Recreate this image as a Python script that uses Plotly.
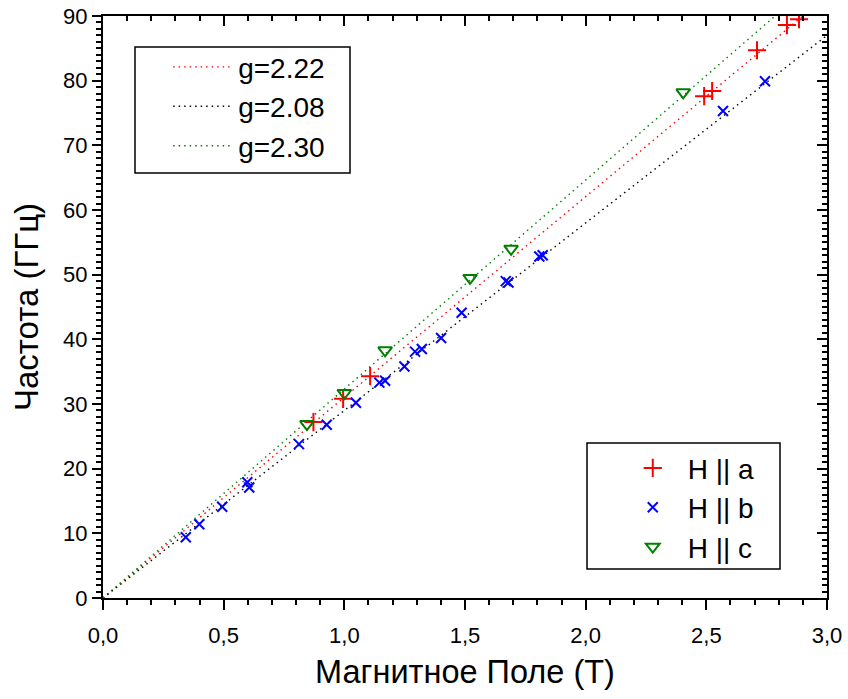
import plotly.graph_objects as go

# ---- data ----
field_a = [0.872, 0.995, 1.107, 2.491, 2.524, 2.710, 2.834, 2.884]
freq_a = [27.2, 30.8, 34.3, 77.6, 78.4, 84.7, 88.6, 89.5]

field_b = [0.343, 0.399, 0.494, 0.598, 0.606, 0.812, 0.927, 1.048, 1.145, 1.169,
           1.249, 1.293, 1.321, 1.401, 1.486, 1.669, 1.680, 1.808, 1.822, 2.569, 2.743]
freq_b = [9.4, 11.4, 14.1, 17.9, 17.1, 23.8, 26.8, 30.2, 33.3, 33.6,
          35.8, 38.1, 38.5, 40.2, 44.1, 49.0, 48.8, 52.8, 53.0, 75.3, 79.9]

field_c = [0.845, 1.000, 1.169, 1.521, 1.691, 2.404]
freq_c = [26.9, 31.7, 38.3, 49.5, 54.0, 78.2]

fit_labels = ["g=2.22", "g=2.08", "g=2.30"]
fit_x = [[0.0, 2.90], [0.0, 3.00], [0.0, 2.785]]
fit_y = [[0.0, 90.0], [0.0, 87.0], [0.0, 90.0]]
fit_colors = ["#ff0000", "#000000", "#008000"]

x_title = "Магнитное Поле (T)"
y_title = "Частота (ГГц)"

FONT = "Liberation Sans, Arial, sans-serif"

fig = go.Figure()

for lbl, xs, ys, col in zip(fit_labels, fit_x, fit_y, fit_colors):
    fig.add_trace(go.Scatter(x=xs, y=ys, mode="lines", name=lbl,
                             line=dict(color=col, width=1.4, dash="1.5px,4px"),
                             legend="legend"))

fig.add_trace(go.Scatter(x=field_a, y=freq_a, mode="markers", name="H || a",
                         marker=dict(symbol="cross-thin-open", size=13, color="#ff0000",
                                     line=dict(width=2, color="#ff0000")),
                         legend="legend2"))
fig.add_trace(go.Scatter(x=field_b, y=freq_b, mode="markers", name="H || b",
                         marker=dict(symbol="x-thin-open", size=10, color="#0000ff",
                                     line=dict(width=2, color="#0000ff")),
                         legend="legend2"))
fig.add_trace(go.Scatter(x=field_c, y=freq_c, mode="markers", name="H || c",
                         marker=dict(symbol="triangle-down-open", size=12, color="#008000",
                                     line=dict(width=2, color="#008000")),
                         legend="legend2"))

# dummy trace to make mirrored (inside-tick) axes appear
fig.add_trace(go.Scatter(x=[None], y=[None], xaxis="x2", yaxis="y2",
                         showlegend=False, hoverinfo="skip"))

axis_common = dict(showline=True, linewidth=2, linecolor="black", showgrid=False,
                   zeroline=False, tickwidth=2, tickcolor="black", automargin=False)

fig.update_layout(
    width=848, height=699,
    margin=dict(l=103, r=21, t=16, b=101, autoexpand=False),
    paper_bgcolor="white", plot_bgcolor="white",
    separators=", ",
    font=dict(family=FONT, color="black"),
    showlegend=True,
    xaxis=dict(range=[0, 3], tick0=0, dtick=0.5, tickformat=".1f",
               ticks="outside", ticklen=10, ticklabelstandoff=7, ticklabeloverflow="allow",
               minor=dict(dtick=0.1, ticks="outside", ticklen=5, tickwidth=1.5, tickcolor="black"),
               tickfont=dict(size=22, family=FONT),
               title=dict(text=x_title, font=dict(size=32.5, family=FONT), standoff=13),
               **axis_common),
    yaxis=dict(range=[0, 90], tick0=0, dtick=10,
               ticks="outside", ticklen=9, ticklabeloverflow="allow",
               minor=dict(dtick=1, ticks="outside", ticklen=5, tickwidth=1.5, tickcolor="black"),
               tickfont=dict(size=22, family=FONT),
               title=dict(text=y_title, font=dict(size=33, family=FONT), standoff=15),
               **axis_common),
    xaxis2=dict(range=[0, 3], overlaying="x", side="top", anchor="y2", tick0=0, dtick=0.5,
                ticks="inside", ticklen=10, showticklabels=False,
                minor=dict(dtick=0.1, ticks="inside", ticklen=5, tickwidth=1.5, tickcolor="black"),
                **axis_common),
    yaxis2=dict(range=[0, 90], overlaying="y", side="right", anchor="x2", tick0=0, dtick=10,
                ticks="inside", ticklen=10, showticklabels=False,
                minor=dict(dtick=1, ticks="inside", ticklen=5, tickwidth=1.5, tickcolor="black"),
                **axis_common),
    legend=dict(x=0.09, y=0.955, xanchor="left", yanchor="top",
                bgcolor="rgba(0,0,0,0)", borderwidth=0, itemwidth=60,
                font=dict(size=28, family=FONT)),
    legend2=dict(x=0.711, y=0.266, xanchor="left", yanchor="top",
                 bgcolor="rgba(0,0,0,0)", borderwidth=0, itemwidth=60,
                 font=dict(size=28, family=FONT)),
    shapes=[
        dict(type="rect", xref="paper", yref="paper",
             x0=(135 - 103) / 724, x1=(350 - 103) / 724,
             y0=(598 - 173) / 582, y1=(598 - 47) / 582,
             line=dict(color="black", width=1.5), fillcolor="rgba(0,0,0,0)", layer="below"),
        dict(type="rect", xref="paper", yref="paper",
             x0=(587 - 103) / 724, x1=(780 - 103) / 724,
             y0=(598 - 569) / 582, y1=(598 - 443) / 582,
             line=dict(color="black", width=1.5), fillcolor="rgba(0,0,0,0)", layer="below"),
    ],
)

fig.write_html("out.html", config={"displayModeBar": False},
               post_script="document.body.style.margin='0px';")
